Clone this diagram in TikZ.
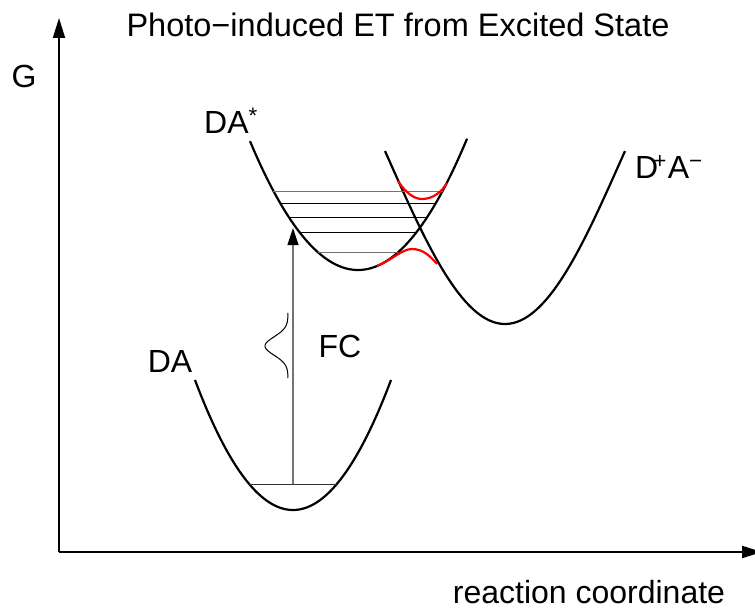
\documentclass[tikz,border=0pt]{standalone}
\usepackage{fontspec}
\setmainfont{Liberation Sans}
\usetikzlibrary{arrows.meta}
\begin{document}
\begin{tikzpicture}[x=1pt,y=-1pt,
  lbl/.style={font=\fontsize{32}{38}\selectfont, inner sep=0pt, anchor=base},
  curve/.style={line width=2.2pt, black},
  level/.style={line width=1pt, black},
  levelgray/.style={line width=1pt, black!55},
  avoid/.style={line width=2.2pt, red},
  axis/.style={line width=2pt, -{Triangle[length=20pt,width=12pt]}},
  fcarrow/.style={line width=1.2pt, black!55, -{Triangle[length=17pt,width=11pt,color=black]}},
]
\useasboundingbox (0,0) rectangle (755,610);
% axes
\coordinate (origin) at (59,552);
\coordinate (ytip) at (59,18);
\coordinate (xtip) at (762,552);
\draw[axis] (origin) -- (ytip);
\draw[axis] (origin) -- (xtip);
% labels
\node[lbl, font=\fontsize{32.5}{38}\selectfont] (title) at (398,37) {Photo−induced ET from Excited State};
\node[lbl] (G) at (24,88) {G};
\node[lbl, anchor=base west] (DAs) at (204,133) {DA\textsuperscript{*}};
\node[lbl, anchor=base west] (DpAm) at (635,178) {D\kern-5pt\textsuperscript{+}\kern1pt A\textsuperscript{−}};
\node[lbl] (DA) at (170,372) {DA};
\node[lbl] (FC) at (340,357) {FC};
\node[lbl] (rc) at (589,603) {reaction coordinate};
% ground state parabola DA
\draw[curve] plot[domain=195:391, samples=80] (\x, {510-0.01354*(\x-293)^2});
% excited state parabola DA*
\draw[curve] plot[domain=250:467, samples=80] (\x, {270-0.01104*(\x-358)^2});
% charge transfer state D+A-
\draw[curve] plot[domain=385:625, samples=80] (\x, {324-147*((\x-505)/100)^2+18.68*((\x-505)/100)^4});
% vibrational levels in DA*
\draw[levelgray] (273.4,191) -- (442.6,191);
\draw[level] (280.3,203.3) -- (435.7,203.3);
\draw[level] (288.9,217.3) -- (427.1,217.3);
\draw[level] (299.9,232.7) -- (416.1,232.7);
\draw[levelgray] (318.4,252.7) -- (397.6,252.7);
% ground level in DA
\coordinate (gl) at (249,484);
\coordinate (gr) at (337,484);
\draw[line width=1pt, black!80] (gl) -- (gr);
% Franck-Condon arrow
\coordinate (gs) at (293,484);
\coordinate (ex) at (293,228);
\draw[fcarrow] (gs) -- (ex);
% Franck-Condon envelope
\draw[level] plot[domain=313:378, samples=60] ({288-23*exp(0-pow((\x-346)/13,2))}, \x);
% avoided crossing (red)
\draw[avoid] (398,181) .. controls (406,193) and (414,199) .. (422,199) .. controls (432,199) and (441,193) .. (447,183);
\draw[avoid] (377,266) .. controls (392,260) and (402,249) .. (412,249) .. controls (423,249) and (430,256) .. (437,264);
\end{tikzpicture}
\end{document}
